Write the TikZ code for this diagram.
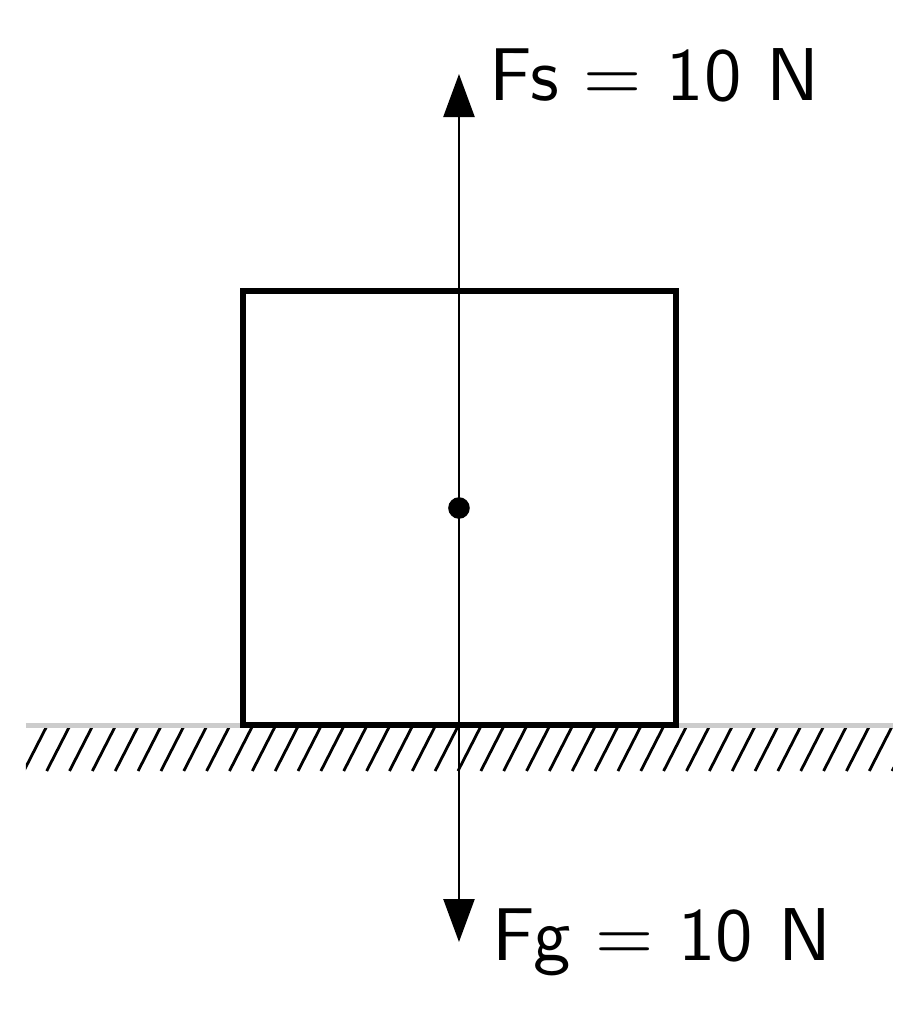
\documentclass[tikz,border=0pt]{standalone}
\usetikzlibrary{arrows.meta}
\tikzset{
  block/.style={draw, line width=0.06cm, minimum size=4.335cm, inner sep=0pt},
  force/.style={-{Triangle[length=0.43cm,width=0.31cm]}, line width=0.025cm},
  forcelabel/.style={font=\sffamily, scale=2.13, transform shape, inner sep=0pt},
  hatchline/.style={line width=0.028cm}
}
\begin{document}
\begin{tikzpicture}[>=latex]
    \useasboundingbox (-4.59,-5.16) rectangle (4.60,5.08);

    % draw the ground and its hatching
    \begin{scope}
      \clip (-4.33,-2.19) rectangle (4.34,-2.64);
      \foreach \k in {-1,...,38}
        \draw[hatchline] (-4.123+0.2285*\k,-2.63) -- ++(0.225,0.44);
    \end{scope}
    \coordinate (gleft) at (-4.33,-2.17);
    \coordinate (gright) at (4.34,-2.17);
    \draw[gray!40, line width=0.05cm] (gleft) -- (gright);

    % draw the block
    \node[block] (box) at (0.005,0) {};
    \coordinate (c) at (0,0);

    % draw the forces
    \draw[force] (c) -- (0,4.34) coordinate (fstip);
    \draw[force] (c) -- (0,-4.34) coordinate (fgtip);
    \node[forcelabel, anchor=base west] (fs) at (0.29,4.08) {Fs = 10 N};
    \node[forcelabel, anchor=base west] (fg) at (0.32,-4.52) {Fg = 10 N};

    % draw the center of mass
    \fill (c) circle (0.108cm);
\end{tikzpicture}
\end{document}
